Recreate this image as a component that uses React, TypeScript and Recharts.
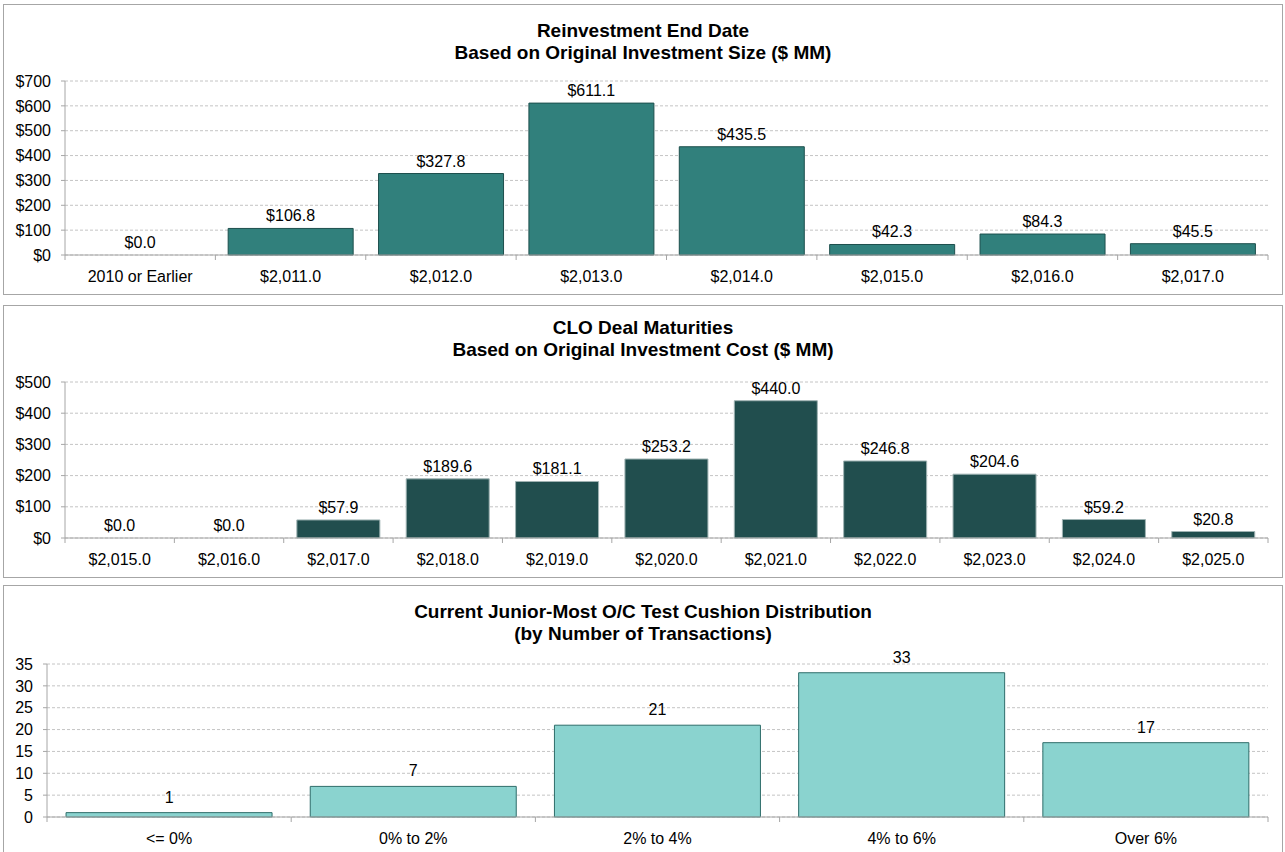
import React from "react";
import { ComposedChart, Bar, Line, XAxis, YAxis, CartesianGrid, LabelList } from "recharts";

const reinvestCategories = ["2010 or Earlier", "$2,011.0", "$2,012.0", "$2,013.0", "$2,014.0", "$2,015.0", "$2,016.0", "$2,017.0"];
const reinvestValues = [0, 106.8, 327.8, 611.1, 435.5, 42.3, 84.3, 45.5];
const reinvestTicks = [0, 100, 200, 300, 400, 500, 600, 700];

const maturityCategories = ["$2,015.0", "$2,016.0", "$2,017.0", "$2,018.0", "$2,019.0", "$2,020.0", "$2,021.0", "$2,022.0", "$2,023.0", "$2,024.0", "$2,025.0"];
const maturityValues = [0, 0, 57.9, 189.6, 181.1, 253.2, 440.0, 246.8, 204.6, 59.2, 20.8];
const maturityTicks = [0, 100, 200, 300, 400, 500];

const cushionCategories = ["<= 0%", "0% to 2%", "2% to 4%", "4% to 6%", "Over 6%"];
const cushionValues = [1, 7, 21, 33, 17];
const cushionTicks = [0, 5, 10, 15, 20, 25, 30, 35];

const FONT = '"Liberation Sans", Arial, sans-serif';
const AXIS = "#a6a6a6";
const GRID = "#c4c4c4";

const zip = (cats: string[], vals: number[]) => cats.map((c, i) => ({ name: c, value: vals[i] }));

const ExcelTick = (props: any) => {
  const { x, y, payload, index, width, visibleTicksCount } = props;
  const band = width / visibleTicksCount;
  return (
    <g>
      <line x1={x - band / 2} x2={x - band / 2} y1={y} y2={y + 5} stroke={AXIS} />
      {index === visibleTicksCount - 1 && (
        <line x1={x + band / 2} x2={x + band / 2} y1={y} y2={y + 5} stroke={AXIS} />
      )}
      <text x={x} y={y} dy={27} textAnchor="middle" fontFamily={FONT} fontSize={16} fill="#000">
        {payload.value}
      </text>
    </g>
  );
};

type PanelProps = {
  top: number;
  height: number;
  titleOffset: number;
  title: string[];
  data: { name: string; value: number }[];
  ticks: number[];
  yWidth: number;
  plotTop: number;
  fill: string;
  stroke?: string;
  gap: string;
  labelFmt: (v: number) => string;
  tickFmt: (v: number) => string;
  labelOffset: number;
};

const Panel = (p: PanelProps) => (
  <div
    style={{
      position: "absolute",
      left: 3,
      top: p.top,
      width: 1280,
      height: p.height,
      border: "1px solid #a6a6a6",
      boxSizing: "border-box",
      background: "#fff",
    }}
  >
    <div
      style={{
        position: "absolute",
        left: 0,
        width: "100%",
        top: p.titleOffset,
        textAlign: "center",
        fontFamily: FONT,
        fontWeight: "bold",
        fontSize: 19,
        lineHeight: "22px",
        color: "#000",
      }}
    >
      {p.title.map((t, i) => (
        <div key={i}>{t}</div>
      ))}
    </div>
    <div style={{ position: "absolute", left: 0, top: 0 }}>
      <ComposedChart
        width={1278}
        height={p.height - 2}
        data={p.data}
        margin={{ top: p.plotTop, right: 14, left: 0, bottom: 0 }}
        barCategoryGap={p.gap}
      >
        <CartesianGrid vertical={false} stroke={GRID} strokeDasharray="3 2" />
        <XAxis
          dataKey="name"
          height={39}
          stroke={AXIS}
          tickLine={false}
          tickSize={0}
          tickMargin={0}
          interval={0}
          tick={<ExcelTick />}
        />
        <YAxis
          width={p.yWidth}
          domain={[p.ticks[0], p.ticks[p.ticks.length - 1]]}
          ticks={p.ticks}
          interval={0}
          stroke={AXIS}
          tickSize={4}
          tickMargin={10}
          tickFormatter={p.tickFmt}
          tick={{ fill: "#000", fontSize: 16, fontFamily: FONT }}
        />
        <Bar dataKey="value" fill={p.fill} stroke={p.stroke} strokeWidth={1} isAnimationActive={false} />
        <Line
          dataKey="value"
          stroke="none"
          dot={false}
          activeDot={false}
          legendType="none"
          isAnimationActive={false}
        >
          <LabelList
            dataKey="value"
            position="top"
            offset={p.labelOffset}
            formatter={(v: any) => p.labelFmt(Number(v))}
            style={{ fill: "#000", fontSize: 16, fontFamily: FONT }}
          />
        </Line>
      </ComposedChart>
    </div>
  </div>
);

export default function App() {
  return (
    <div
      style={{
        position: "absolute",
        left: 0,
        top: 0,
        width: 1285,
        height: 852,
        overflow: "hidden",
        background: "#fff",
      }}
    >
      <Panel
        top={4}
        height={291}
        titleOffset={15}
        title={["Reinvestment End Date", "Based on Original Investment Size ($ MM)"]}
        data={zip(reinvestCategories, reinvestValues)}
        ticks={reinvestTicks}
        yWidth={61}
        plotTop={76}
        fill="#31807c"
        stroke="#1d4f4d"
        gap="8.5%"
        labelFmt={(v) => "$" + v.toFixed(1)}
        tickFmt={(v) => "$" + v}
        labelOffset={7}
      />
      <Panel
        top={305}
        height={273}
        titleOffset={11}
        title={["CLO Deal Maturities", "Based on Original Investment Cost ($ MM)"]}
        data={zip(maturityCategories, maturityValues)}
        ticks={maturityTicks}
        yWidth={61}
        plotTop={76}
        fill="#214e4e"
        stroke="#9fb3b3"
        gap="12%"
        labelFmt={(v) => "$" + v.toFixed(1)}
        tickFmt={(v) => "$" + v}
        labelOffset={7}
      />
      <Panel
        top={585}
        height={272}
        titleOffset={15}
        title={["Current Junior-Most O/C Test Cushion Distribution", "(by Number of Transactions)"]}
        data={zip(cushionCategories, cushionValues)}
        ticks={cushionTicks}
        yWidth={43}
        plotTop={78}
        fill="#8ad3cf"
        stroke="#2e6d6a"
        gap="7.8%"
        labelFmt={(v) => String(v)}
        tickFmt={(v) => String(v)}
        labelOffset={10}
      />
    </div>
  );
}
